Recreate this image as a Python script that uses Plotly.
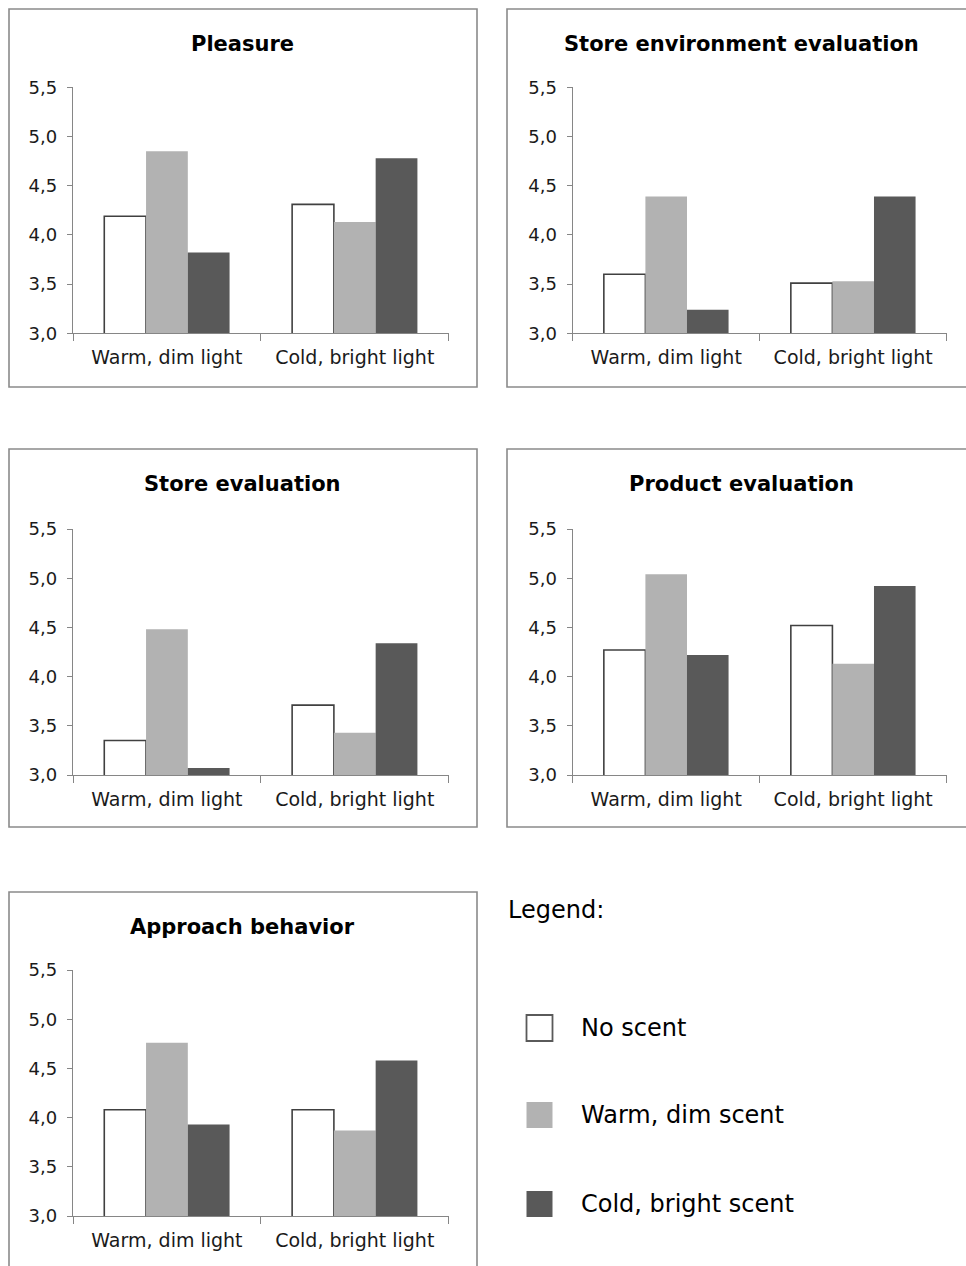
import plotly.graph_objects as go

# ---- data -------------------------------------------------------------
categories = ["Warm, dim light", "Cold, bright light"]
series_names = ["No scent", "Warm, dim scent", "Cold, bright scent"]

# each list: [No scent, Warm dim scent, Cold bright scent], values per lighting condition
pleasure = [[4.19, 4.31], [4.85, 4.13], [3.82, 4.78]]
store_environment = [[3.60, 3.51], [4.39, 3.53], [3.24, 4.39]]
store_evaluation = [[3.35, 3.71], [4.48, 3.43], [3.07, 4.34]]
product_evaluation = [[4.27, 4.52], [5.04, 4.13], [4.22, 4.92]]
approach_behavior = [[4.08, 4.08], [4.76, 3.87], [3.93, 4.58]]

panel_titles = ["Pleasure", "Store environment evaluation", "Store evaluation",
                "Product evaluation", "Approach behavior"]
panel_data = [pleasure, store_environment, store_evaluation,
              product_evaluation, approach_behavior]

y_tickvals = [3.0, 3.5, 4.0, 4.5, 5.0, 5.5]
y_ticktext = ["3,0", "3,5", "4,0", "4,5", "5,0", "5,5"]

# ---- styling ----------------------------------------------------------
W, H = 966, 1266
FONT = "DejaVu Sans"
AXIS_GREY = "#868686"
FRAME_GREY = "#8a8a8a"
fills = ["#ffffff", "#b2b2b2", "#595959"]
outlines = ["#404040", "#b2b2b2", "#595959"]
outline_w = [1.6, 0, 0]

# (frame left, frame top, plot left, plot top, plot right, plot bottom) in pixels
panels = [
    (9, 9, 73, 87.3, 448.7, 333.3),
    (507, 9, 572.7, 87.3, 946.7, 333.3),
    (9, 449, 73, 529, 448.7, 775),
    (507, 449, 572.7, 529, 946.7, 775),
    (9, 892, 73, 970, 448.7, 1216),
]
FRAME_W, FRAME_H = 468, 378


def px(x):
    return x / W


def py(y):
    return 1 - y / H


fig = go.Figure()
shapes = []
annotations = []
layout_axes = {}

for i, (title, data, geo) in enumerate(zip(panel_titles, panel_data, panels), start=1):
    fl, ft, l, t, r, b = geo
    xa = "x" if i == 1 else f"x{i}"
    ya = "y" if i == 1 else f"y{i}"
    for s, name in enumerate(series_names):
        fig.add_trace(go.Bar(
            x=categories, y=data[s], name=name, xaxis=xa, yaxis=ya,
            marker=dict(color=fills[s],
                        line=dict(color=outlines[s], width=outline_w[s])),
            showlegend=False,
        ))
    layout_axes["xaxis" if i == 1 else f"xaxis{i}"] = dict(
        domain=[px(l), px(r)], anchor=ya, type="category", automargin=False,
        range=[-0.5, 1.5], showline=True, linecolor=AXIS_GREY, linewidth=1.3,
        ticks="outside", tickson="boundaries", ticklen=7, tickcolor=AXIS_GREY,
        tickwidth=1.3, showgrid=False, zeroline=False, fixedrange=True,
        ticklabelstandoff=7,
        tickfont=dict(family=FONT, size=19, color="#1a1a1a"),
    )
    layout_axes["yaxis" if i == 1 else f"yaxis{i}"] = dict(
        domain=[py(b), py(t)], anchor=xa, range=[3, 5.5], automargin=False,
        tickvals=y_tickvals, ticktext=y_ticktext,
        showline=True, linecolor=AXIS_GREY, linewidth=1.3,
        ticks="outside", ticklen=5, tickcolor=AXIS_GREY, tickwidth=1.3,
        showgrid=False, zeroline=False, fixedrange=True,
        ticklabelstandoff=6,
        tickfont=dict(family=FONT, size=18, color="#1a1a1a"),
    )
    # chart frame
    shapes.append(dict(type="rect", xref="paper", yref="paper",
                       x0=px(fl), x1=px(fl + FRAME_W), y0=py(ft + FRAME_H), y1=py(ft),
                       line=dict(color=FRAME_GREY, width=1.6), fillcolor="rgba(0,0,0,0)",
                       layer="below"))
    # chart title
    annotations.append(dict(text=f"<b>{title}</b>", xref="paper", yref="paper",
                            x=px(fl + FRAME_W / 2), y=py(ft + 35), xanchor="center",
                            yanchor="middle", showarrow=False,
                            font=dict(family=FONT, size=21, color="#000000")))

# ---- legend panel -----------------------------------------------------
annotations.append(dict(text="Legend:", xref="paper", yref="paper",
                        x=px(506), y=py(910), xanchor="left", yanchor="middle",
                        showarrow=False, font=dict(family=FONT, size=24, color="#000000")))
legend_rows = [1028, 1115, 1204]
for s, name in enumerate(series_names):
    cy = legend_rows[s]
    shapes.append(dict(type="rect", xref="paper", yref="paper",
                       x0=px(526.5), x1=px(552.5), y0=py(cy + 13), y1=py(cy - 13),
                       fillcolor=fills[s],
                       line=dict(color="#5a5a5a" if s == 0 else fills[s],
                                 width=1.8 if s == 0 else 0)))
    annotations.append(dict(text=name, xref="paper", yref="paper",
                            x=px(579), y=py(cy), xanchor="left", yanchor="middle",
                            showarrow=False,
                            font=dict(family=FONT, size=24, color="#000000")))

fig.update_layout(
    width=W, height=H,
    margin=dict(l=0, r=0, t=0, b=0, pad=0, autoexpand=False),
    paper_bgcolor="white", plot_bgcolor="white",
    barmode="group", bargap=0.333, bargroupgap=0,
    showlegend=False, shapes=shapes, annotations=annotations,
    font=dict(family=FONT),
    **layout_axes,
)

fig.write_html("out.html", config={"displayModeBar": False})
